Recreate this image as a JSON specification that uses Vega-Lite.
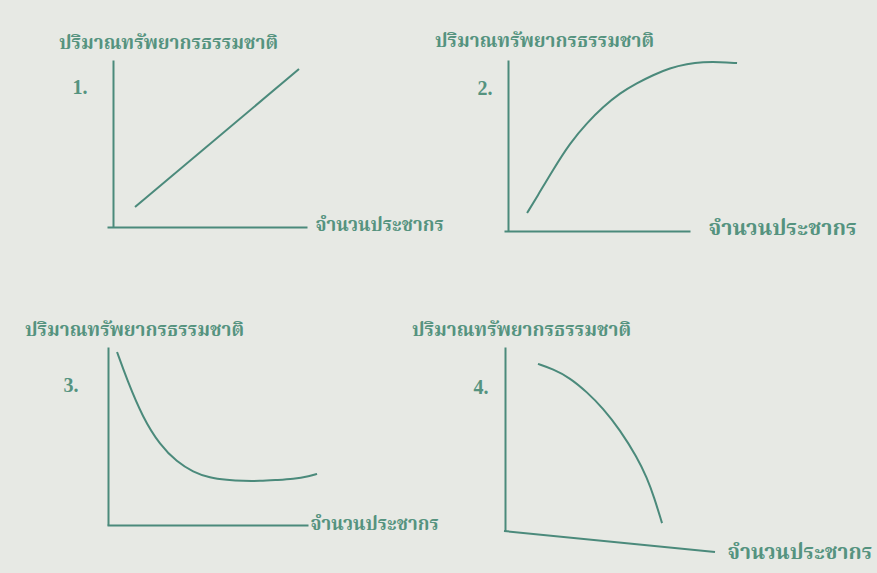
{
  "$schema": "https://vega.github.io/schema/vega-lite/v6.json",
  "background": "#e7e9e4",
  "padding": {"left": 25, "top": 32, "right": 30, "bottom": 30},
  "columns": 2,
  "spacing": {"row": 103, "column": 186},
  "align": "all",
  "bounds": "flush",
  "config": {
    "view": {"stroke": null},
    "axis": {
      "domainColor": "#4b8a7b",
      "domainWidth": 2,
      "ticks": false,
      "labels": false,
      "grid": false,
      "titleColor": "#55937f",
      "titleFont": "Noto Serif Thai, Noto Sans Thai, Garuda, Loma, serif",
      "titleFontSize": 18.6,
      "titleFontWeight": "bold",
      "titleAngle": 0,
      "titleAlign": "left",
      "titleBaseline": "middle"
    },
    "title": {
      "color": "#55937f",
      "font": "Noto Serif Thai, Noto Sans Thai, Garuda, Loma, serif",
      "fontSize": 19,
      "fontWeight": "bold",
      "anchor": "start",
      "frame": "group",
      "baseline": "alphabetic"
    },
    "line": {"color": "#4b8a7b", "strokeWidth": 2}
  },
  "datasets": {
    "curves": [
      {"panel": "1", "x": 1.4, "y": 1.2},
      {"panel": "1", "x": 9.6, "y": 9.46},
      {"panel": "2", "x": 1.24, "y": 1.05},
      {"panel": "2", "x": 1.77, "y": 1.99},
      {"panel": "2", "x": 2.63, "y": 3.57},
      {"panel": "2", "x": 3.55, "y": 5.15},
      {"panel": "2", "x": 4.46, "y": 6.32},
      {"panel": "2", "x": 5.32, "y": 7.25},
      {"panel": "2", "x": 6.24, "y": 8.07},
      {"panel": "2", "x": 7.15, "y": 8.65},
      {"panel": "2", "x": 8.01, "y": 9.12},
      {"panel": "2", "x": 8.92, "y": 9.53},
      {"panel": "2", "x": 9.84, "y": 9.77},
      {"panel": "2", "x": 10.7, "y": 9.88},
      {"panel": "2", "x": 11.61, "y": 9.88},
      {"panel": "2", "x": 12.53, "y": 9.82},
      {"panel": "3", "x": 0.5, "y": 9.72},
      {"panel": "3", "x": 1.0, "y": 8.15},
      {"panel": "3", "x": 1.79, "y": 6.01},
      {"panel": "3", "x": 2.64, "y": 4.49},
      {"panel": "3", "x": 3.48, "y": 3.54},
      {"panel": "3", "x": 4.28, "y": 2.98},
      {"panel": "3", "x": 5.12, "y": 2.64},
      {"panel": "3", "x": 5.97, "y": 2.53},
      {"panel": "3", "x": 6.77, "y": 2.47},
      {"panel": "3", "x": 7.61, "y": 2.47},
      {"panel": "3", "x": 8.46, "y": 2.53},
      {"panel": "3", "x": 9.25, "y": 2.58},
      {"panel": "3", "x": 10.1, "y": 2.75},
      {"panel": "3", "x": 10.45, "y": 2.87},
      {"panel": "4", "x": 1.61, "y": 9.08},
      {"panel": "4", "x": 2.32, "y": 8.8},
      {"panel": "4", "x": 3.13, "y": 8.32},
      {"panel": "4", "x": 3.93, "y": 7.55},
      {"panel": "4", "x": 4.69, "y": 6.68},
      {"panel": "4", "x": 5.5, "y": 5.49},
      {"panel": "4", "x": 6.3, "y": 4.02},
      {"panel": "4", "x": 6.78, "y": 2.88},
      {"panel": "4", "x": 7.11, "y": 1.85},
      {"panel": "4", "x": 7.49, "y": 0.43},
      {"panel": "4-axis", "x": 0, "y": 0},
      {"panel": "4-axis", "x": 10, "y": -1.14}
    ]
  },
  "concat": [
    {
      "width": 200,
      "height": 167,
      "title": {"text": "ปริมาณทรัพยากรธรรมชาติ", "dx": -48, "offset": 7},
      "data": {"name": "curves"},
      "transform": [{"filter": "datum.panel === '1'"}],
      "mark": {"type": "line"},
      "encoding": {
        "x": {"field": "x", "type": "quantitative", "scale": {"domain": [0, 10]},
              "axis": {"title": "จำนวนประชากร", "titleX": 208, "titleY": -3}},
        "y": {"field": "y", "type": "quantitative", "scale": {"domain": [0, 10]},
              "axis": {"title": "1.", "titleX": -41, "titleY": 27, "offset": -6, "titleFont": "Liberation Serif", "titleFontSize": 20}}
      }
    },
    {
      "width": 186,
      "height": 171,
      "title": {"text": "ปริมาณทรัพยากรธรรมชาติ", "dx": -69, "offset": 7},
      "data": {"name": "curves"},
      "transform": [{"filter": "datum.panel === '2'"}],
      "mark": {"type": "line", "interpolate": "basis"},
      "encoding": {
        "x": {"field": "x", "type": "quantitative", "scale": {"domain": [0, 10]},
              "axis": {"title": "จำนวนประชากร", "titleX": 204, "titleY": -3, "titleFontSize": 21.5}},
        "y": {"field": "y", "type": "quantitative", "scale": {"domain": [0, 10]},
              "axis": {"title": "2.", "titleX": -31, "titleY": 28, "offset": -4, "titleFont": "Liberation Serif", "titleFontSize": 20}}
      }
    },
    {
      "width": 201,
      "height": 178,
      "title": {"text": "ปริมาณทรัพยากรธรรมชาติ", "dx": -82, "offset": 7},
      "data": {"name": "curves"},
      "transform": [{"filter": "datum.panel === '3'"}],
      "mark": {"type": "line", "interpolate": "basis"},
      "encoding": {
        "x": {"field": "x", "type": "quantitative", "scale": {"domain": [0, 10]},
              "axis": {"title": "จำนวนประชากร", "titleX": 203, "titleY": -2}},
        "y": {"field": "y", "type": "quantitative", "scale": {"domain": [0, 10]},
              "axis": {"title": "3.", "titleX": -45, "titleY": 38, "offset": -1, "titleFont": "Liberation Serif", "titleFontSize": 20}}
      }
    },
    {
      "width": 211,
      "height": 184,
      "title": {"text": "ปริมาณทรัพยากรธรรมชาติ", "dx": -92, "offset": 7},
      "data": {"name": "curves"},
      "layer": [
        {
          "transform": [{"filter": "datum.panel === '4'"}],
          "mark": {"type": "line", "interpolate": "basis"},
          "encoding": {
            "x": {"field": "x", "type": "quantitative", "scale": {"domain": [0, 10]},
                  "axis": {"title": "จำนวนประชากร", "titleX": 223, "titleY": 21, "domain": false, "titleFontSize": 21}},
            "y": {"field": "y", "type": "quantitative", "scale": {"domain": [0, 10]},
                  "axis": {"title": "4.", "titleX": -32, "titleY": 40, "offset": -1, "titleFont": "Liberation Serif", "titleFontSize": 20}}
          }
        },
        {
          "transform": [{"filter": "datum.panel === '4-axis'"}],
          "mark": {"type": "line"},
          "encoding": {
            "x": {"field": "x", "type": "quantitative"},
            "y": {"field": "y", "type": "quantitative"}
          }
        }
      ]
    }
  ]
}
